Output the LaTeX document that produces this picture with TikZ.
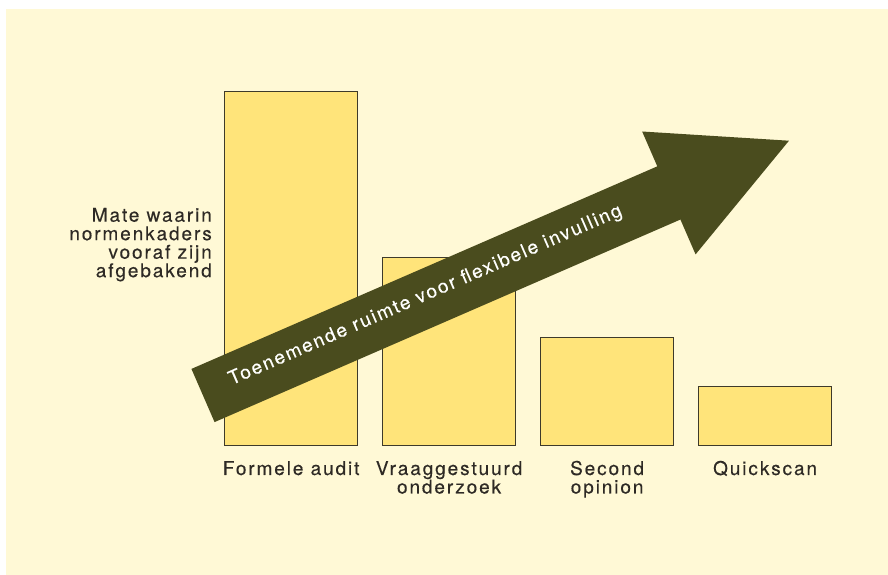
\documentclass[tikz,border=0pt]{standalone}
\usepackage{fontspec}
\setmainfont{TeX Gyre Heros}[LetterSpace=10, FakeBold=0.3]
\usetikzlibrary{positioning}

\definecolor{paper}{RGB}{255,249,214}
\definecolor{barfill}{RGB}{255,228,122}
\definecolor{barline}{RGB}{62,58,42}
\definecolor{olive}{RGB}{74,76,30}
\definecolor{ink}{RGB}{46,42,37}

\begin{document}
\begin{tikzpicture}[x=1pt, y=1pt]
  \tikzstyle{bar} = [rectangle, draw=barline, fill=barfill, line width = 1.2pt, anchor = south west, minimum width = 133pt, inner sep = 0pt]
  \tikzstyle{barlabel} = [text = ink, align = center, anchor = base, inner sep = 0pt, font = \fontsize{19pt}{18.5pt}\selectfont]
  \tikzstyle{trend} = [fill = olive]
  \tikzstyle{trendtext} = [text = white!95!paper, anchor = base west, inner sep = 0pt, transform shape, font = \fontsize{19pt}{18.5pt}\selectfont]

  \useasboundingbox (0,0) rectangle (888,575);
  \fill[paper] (6,0) rectangle (888,566);

  \node [bar, minimum height = 354pt] at (224,129) (audit) {};
  \node [bar, minimum height = 188pt] at (382,129) (vraag) {};
  \node [bar, minimum height = 108pt] at (540,129) (second) {};
  \node [bar, minimum height = 59pt] at (698,129) (quick) {};

  % base of a two-line label sits on its last line
  \node [barlabel] at ([yshift=-29pt] audit.south) (audit_label) {Formele audit};
  \node [barlabel] at ([yshift=-47.5pt] vraag.south) (vraag_label) {Vraaggestuurd\\onderzoek};
  \node [barlabel] at ([yshift=-47.5pt] second.south) (second_label) {Second\\opinion};
  \node [barlabel] at ([yshift=-29pt] quick.south) (quick_label) {Quickscan};

  \node [barlabel, align = right, anchor = base east] at (212,297.8) (axis_label) {Mate waarin\\normenkaders\\vooraf zijn\\afgebakend};

  \begin{scope}[shift={(203,179.5)}, rotate=23.5]
    \fill[trend] (0,-29) -- (508,-29) -- (508,-67) -- (639,0) -- (508,67) -- (508,29) -- (0,29) -- cycle;
    \node [trendtext] at (30.5,-2) (trend_label) {Toenemende ruimte voor flexibele invulling};
  \end{scope}
\end{tikzpicture}
\end{document}
